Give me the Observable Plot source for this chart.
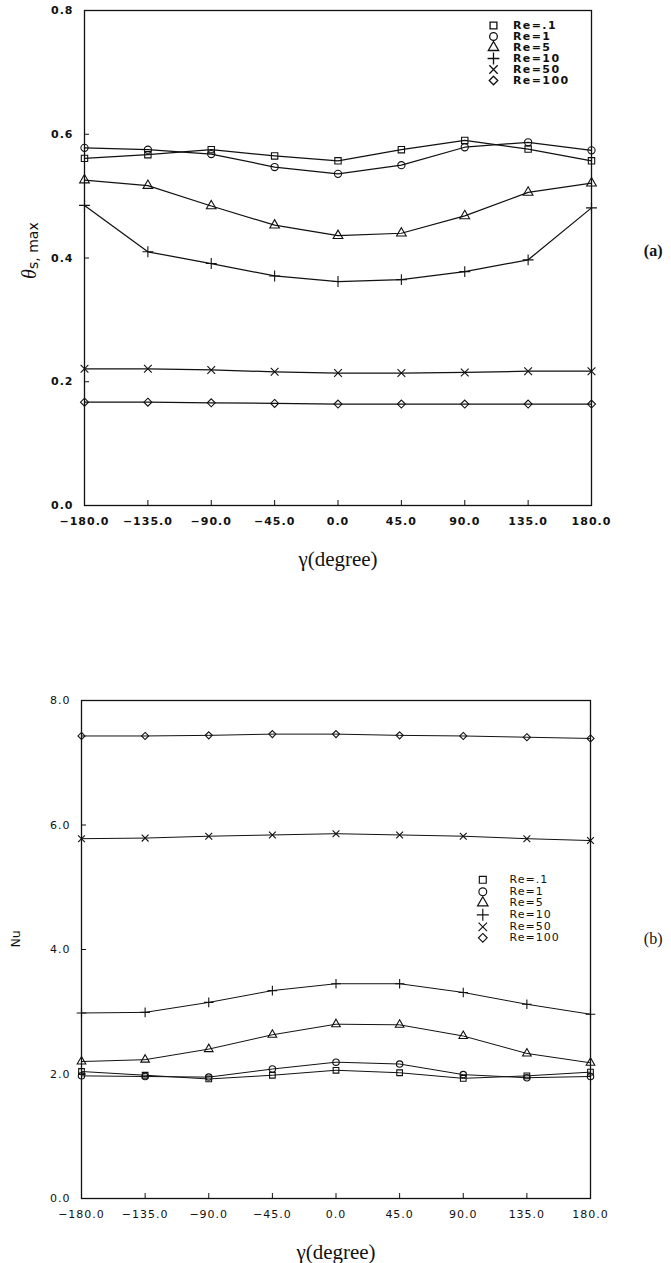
<!DOCTYPE html>
<html>
<head>
<meta charset="utf-8">
<script src="https://cdn.jsdelivr.net/npm/d3@7"></script>
<script src="https://cdn.jsdelivr.net/npm/@observablehq/plot@0.6"></script>
<style>
  html, body { margin: 0; padding: 0; background: #fff; }
  #wrap { position: relative; width: 671px; height: 1263px; overflow: hidden; background: #fff; }
  .panel { position: absolute; left: 0; }
  #pa { top: 0; }
  #pb { top: 600px; }
  .panel [aria-label$="tick label"] { letter-spacing: 1px; }
  .leg { position: absolute; color: #111; }
  .lga { left: 487.5px; top: 19.5px; font-family: "DejaVu Sans", sans-serif; font-weight: bold; font-size: 11px; letter-spacing: 1.4px; }
  .lgb { left: 477px; top: 874.2px; font-family: "DejaVu Sans", sans-serif; font-weight: normal; font-size: 11px; letter-spacing: 1px; }
  .lga-swatches, .lgb-swatches { margin: 0 !important; }
  .lga-swatch { padding-bottom: 0 !important; height: 11px; overflow: visible; }
  .lgb-swatch { padding-bottom: 0 !important; height: 11.6px; overflow: visible; }
  .lga-swatch > svg { margin-right: 14.5px !important; }
  .lgb-swatch > svg { margin-right: 21px !important; }
  .lga-swatch-label { line-height: 11px; height: 11px; font-size: 11px; overflow: visible !important; text-overflow: clip !important; }
  .lgb-swatch-label { line-height: 11.6px; height: 11.6px; font-size: 11px; overflow: visible !important; text-overflow: clip !important; }
</style>
</head>
<body>
<div id="wrap">
  <div id="pa" class="panel"></div>
  <div id="pb" class="panel"></div>
</div>
<script>
// ---------- data ----------
const gamma = [-180, -135, -90, -45, 0, 45, 90, 135, 180];
const gammaTickLabels = ["\u2212180.0", "\u2212135.0", "\u221290.0", "\u221245.0", "0.0", "45.0", "90.0", "135.0", "180.0"];
const reLabels = ["Re=.1", "Re=1", "Re=5", "Re=10", "Re=50", "Re=100"];
const reSymbols = ["square", "circle", "triangle", "plus", "times", "diamond2"];

// (a) theta_s,max
const thetaRe01  = [0.561, 0.567, 0.575, 0.565, 0.557, 0.575, 0.590, 0.576, 0.557];
const thetaRe1   = [0.578, 0.575, 0.568, 0.547, 0.536, 0.550, 0.579, 0.587, 0.574];
const thetaRe5   = [0.526, 0.517, 0.484, 0.453, 0.436, 0.440, 0.468, 0.506, 0.521];
const thetaRe10  = [0.485, 0.410, 0.391, 0.371, 0.362, 0.365, 0.378, 0.397, 0.481];
const thetaRe50  = [0.221, 0.221, 0.219, 0.216, 0.214, 0.214, 0.215, 0.217, 0.217];
const thetaRe100 = [0.167, 0.167, 0.166, 0.165, 0.164, 0.164, 0.164, 0.164, 0.164];
const thetaTicks = [0, 0.2, 0.4, 0.6, 0.8];

// (b) Nu
const nuRe01  = [2.04, 1.98, 1.92, 1.98, 2.06, 2.02, 1.93, 1.97, 2.03];
const nuRe1   = [1.97, 1.96, 1.95, 2.08, 2.19, 2.16, 1.99, 1.94, 1.96];
const nuRe5   = [2.20, 2.23, 2.40, 2.63, 2.80, 2.79, 2.61, 2.33, 2.18];
const nuRe10  = [2.98, 2.99, 3.15, 3.34, 3.45, 3.45, 3.31, 3.12, 2.96];
const nuRe50  = [5.78, 5.79, 5.82, 5.84, 5.86, 5.84, 5.82, 5.78, 5.75];
const nuRe100 = [7.43, 7.43, 7.44, 7.46, 7.46, 7.44, 7.43, 7.41, 7.39];
const nuTicks = [0, 2, 4, 6, 8];

// ---------- build tables ----------
function toRows(seriesList) {
  return seriesList.flatMap((vals, k) =>
    gamma.map((g, i) => ({ gamma: g, value: vals[i], re: reLabels[k] })));
}
const rowsA = toRows([thetaRe01, thetaRe1, thetaRe5, thetaRe10, thetaRe50, thetaRe100]);
const rowsB = toRows([nuRe01, nuRe1, nuRe5, nuRe10, nuRe50, nuRe100]);

const fmt1 = d3.format(".1f");
const gammaFmt = d => gammaTickLabels[gamma.indexOf(d)];

function panel(opts) {
  const { rows, yDomain, yTicks, height, marginTop, marginBottom, marginLeft, marginRight,
          bold, lineWidth, dotR, ylabelMarks, tag, tagDx, tagDy, tagBold } = opts;
  const weight = bold ? "bold" : "normal";
  return Plot.plot({
    width: 671,
    height,
    marginTop, marginBottom, marginLeft, marginRight,
    style: { background: "#fff", color: "#111", fontFamily: "DejaVu Sans, sans-serif", fontSize: "11px" },
    x: { domain: [-180, 180] },
    y: { domain: yDomain },
    symbol: { domain: reLabels, range: reSymbols },
    marks: [
      Plot.frame({ stroke: "#111", strokeWidth: 1.3 }),
      Plot.axisX({ ticks: gamma, tickSize: -5, tickPadding: 17, tickFormat: gammaFmt,
                   fontSize: 11, fontWeight: weight, fontFamily: "DejaVu Sans, sans-serif",
                   stroke: "#111", fill: "#111", label: null }),
      Plot.axisY({ ticks: yTicks, tickSize: -5, tickPadding: 16, tickFormat: fmt1,
                   fontSize: 11, fontWeight: weight, fontFamily: "DejaVu Sans, sans-serif",
                   stroke: "#111", fill: "#111", label: null }),
      Plot.line(rows, { x: "gamma", y: "value", z: "re", stroke: "#111", strokeWidth: lineWidth }),
      Plot.dot(rows, { x: "gamma", y: "value", symbol: "re", stroke: "#111", fill: "none",
                       r: dotR, strokeWidth: 1.1 }),
      Plot.text(["\u03b3(degree)"], { text: d => d, frameAnchor: "bottom", dy: 54, lineAnchor: "middle",
                                     fontFamily: "Liberation Serif, serif", fontSize: 21, fill: "#111" }),
      ...ylabelMarks,
      Plot.text([tag], { text: d => d, frameAnchor: "right", dx: tagDx, dy: tagDy,
                         fontFamily: "Liberation Serif, serif", fontSize: 16,
                         fontWeight: tagBold ? "bold" : "normal", fill: "#111" })
    ]
  });
}

const plotA = panel({
  rows: rowsA, yDomain: [0, 0.8], yTicks: thetaTicks,
  height: 600, marginTop: 10, marginBottom: 95, marginLeft: 84, marginRight: 80,
  bold: true, lineWidth: 1.25, dotR: 3.6,
  ylabelMarks: [
    Plot.text(["\u03b8"], { text: d => d, frameAnchor: "left", dx: -55, dy: 21, rotate: -90,
                            fontFamily: "Liberation Serif, serif", fontStyle: "italic",
                            fontSize: 20, fill: "#111" }),
    Plot.text(["s, max"], { text: d => d, frameAnchor: "left", dx: -51, dy: 11, rotate: -90,
                            textAnchor: "start", fontFamily: "DejaVu Sans, sans-serif",
                            fontSize: 14, fill: "#111" })
  ],
  tag: "(a)", tagDx: 71, tagDy: -7, tagBold: true
});

const plotB = panel({
  rows: rowsB, yDomain: [0, 8], yTicks: nuTicks,
  height: 663, marginTop: 100, marginBottom: 65, marginLeft: 81, marginRight: 81,
  bold: false, lineWidth: 1.0, dotR: 3.2,
  ylabelMarks: [
    Plot.text(["Nu"], { text: d => d, frameAnchor: "left", dx: -66, dy: -2, rotate: -90,
                        fontFamily: "DejaVu Sans, sans-serif", fontSize: 12.5, fill: "#111" })
  ],
  tag: "(b)", tagDx: 72, tagDy: -11, tagBold: false
});

document.getElementById("pa").appendChild(plotA);
document.getElementById("pb").appendChild(plotB);

// ---------- legends ----------
const legA = Plot.legend({
  symbol: { type: "ordinal", domain: reLabels, range: reSymbols },
  columns: 1, swatchSize: 11, r: 5.6, strokeWidth: 1.9, className: "lga"
});
legA.classList.add("leg", "lga");
document.getElementById("wrap").appendChild(legA);

const legB = Plot.legend({
  symbol: { type: "ordinal", domain: reLabels, range: reSymbols },
  columns: 1, swatchSize: 11.6, r: 5.4, strokeWidth: 1.6, className: "lgb"
});
legB.classList.add("leg", "lgb");
document.getElementById("wrap").appendChild(legB);
</script>
</body>
</html>
